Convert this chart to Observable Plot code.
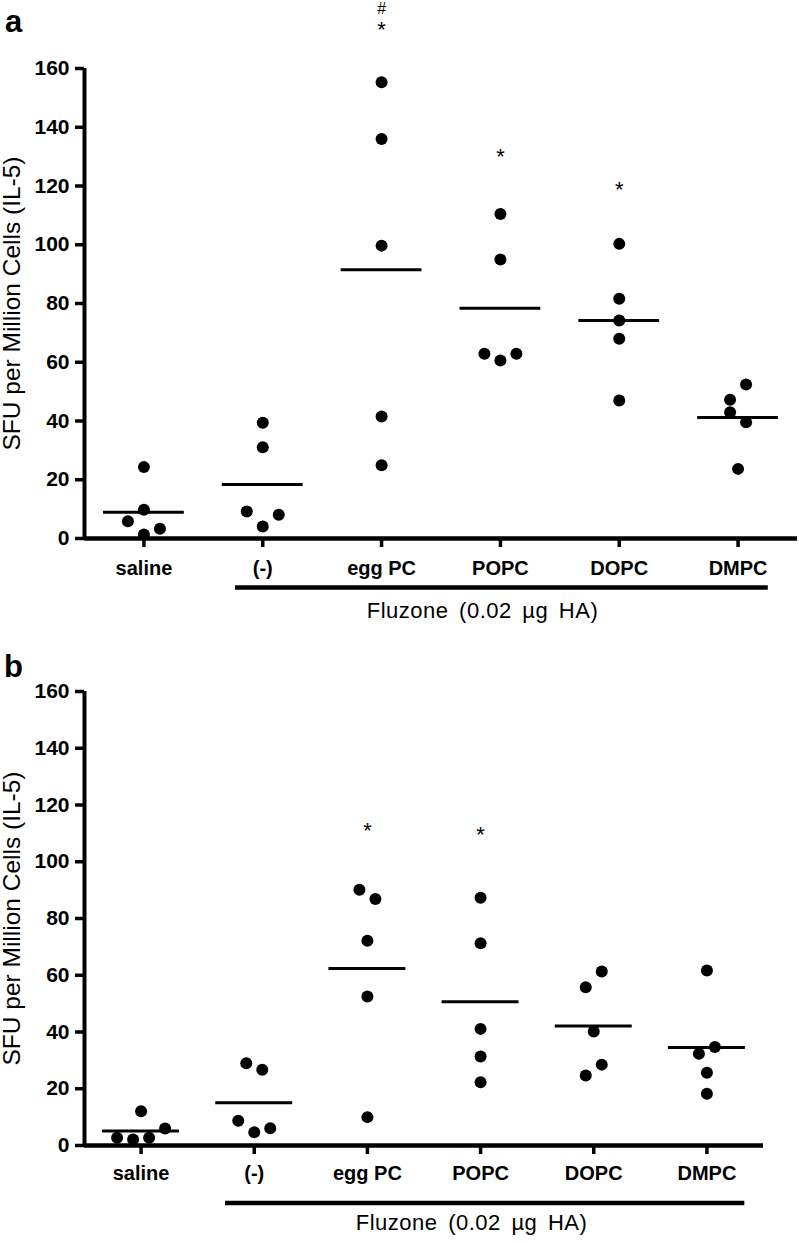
<!DOCTYPE html>
<html><head><meta charset="utf-8">
<script src="https://cdn.jsdelivr.net/npm/d3@7"></script>
<script src="https://cdn.jsdelivr.net/npm/@observablehq/plot@0.6"></script>
<style>
body{margin:0;background:#fff;}
#chart{width:799px;}
#chart svg{display:block;overflow:visible;}
</style></head><body><div id="chart"></div>
<script>
// ---------- data ----------
const categories = ["saline", "(-)", "egg PC", "POPC", "DOPC", "DMPC"];
const yTicks = [0, 20, 40, 60, 80, 100, 120, 140, 160];
const yLabel = "SFU per Million Cells (IL-5)";
const groupLabel = "Fluzone (0.02 µg HA)";

// panel a (values in category order)
const a_saline = [24.3, 9.8, 5.9, 1.4, 3.3];
const a_none   = [39.4, 31.1, 9.2, 4.1, 8.1];
const a_eggPC  = [155.3, 136.0, 99.7, 41.5, 24.9];
const a_POPC   = [110.5, 95.0, 62.9, 60.6, 62.9];
const a_DOPC   = [100.3, 81.6, 74.2, 68.0, 47.0];
const a_DMPC   = [47.2, 52.4, 43.0, 39.6, 23.7];
const a_sigCats   = ["egg PC", "egg PC", "POPC", "DOPC"];
const a_sigValues = [174.1, 180.3, 130.6, 119.6];
const a_sigLabels = ["*", "#", "*", "*"];

// panel b
const b_saline = [12.1, 2.7, 2.1, 2.7, 6.0];
const b_none   = [29.0, 26.7, 8.7, 4.7, 6.1];
const b_eggPC  = [90.1, 86.9, 72.2, 52.5, 10.0];
const b_POPC   = [87.3, 71.3, 41.1, 31.4, 22.3];
const b_DOPC   = [55.8, 61.3, 40.2, 24.7, 28.5];
const b_DMPC   = [61.7, 32.3, 34.7, 25.6, 18.2];
const b_sigCats   = ["egg PC", "POPC"];
const b_sigValues = [111.6, 110.2];
const b_sigLabels = ["*", "*"];

// ---------- helpers ----------
const FONT = "'Liberation Sans', Arial, Helvetica, sans-serif";
const ROW_TOL = 5.8;      // values closer than this share a row (column scatter)
const DOT_SPACING = 16;   // px between side-by-side dots

function rowSlots(values) {
  const order = d3.range(values.length).sort((i, j) => values[i] - values[j]);
  const rows = []; let row = null;
  for (const i of order) {
    if (row && values[i] - values[row[0]] <= ROW_TOL) row.push(i);
    else rows.push(row = [i]);
  }
  const slot = new Array(values.length);
  for (const r of rows) {
    r.sort((i, j) => i - j);
    r.forEach((i, k) => slot[i] = k - (r.length - 1) / 2);
  }
  return slot;
}

function panel(cfg) {
  const {letter, groups, sigCats, sigValues, sigLabels, width, height,
         marginTop, marginBottom, marginRight, marginLeft,
         bracket, bracketDy, labelX, labelDy, tickPad, letterDx, letterDy} = cfg;
  const step = (width - marginLeft - marginRight) / categories.length;
  const points = [];
  const means = [];
  groups.forEach((vals, c) => {
    const slots = rowSlots(vals);
    vals.forEach((v, i) => points.push({x: c + slots[i] * DOT_SPACING / step, y: v}));
    means.push({c, mean: d3.mean(vals)});
  });
  const sig = sigCats.map((cat, i) => ({x: categories.indexOf(cat), y: sigValues[i], label: sigLabels[i]}));
  const svg = Plot.plot({
    width, height, marginLeft, marginRight, marginTop, marginBottom,
    style: {fontFamily: FONT, color: "#000", background: "#fff", overflow: "visible"},
    x: {domain: [-0.5, categories.length - 0.5], axis: null},
    y: {domain: [0, 160], axis: null},
    marks: [
      Plot.axisY({ticks: yTicks, tickSize: 9, tickPadding: 6, strokeWidth: 3.5,
                  fontSize: 21, fontWeight: "bold", label: null, tickFormat: d => d}),
      Plot.axisX({ticks: d3.range(categories.length), tickFormat: i => categories[i],
                  tickSize: 9, tickPadding: tickPad, strokeWidth: 3.5,
                  fontSize: 20, fontWeight: "bold", label: null}),
      Plot.ruleX([-0.5], {strokeWidth: 4}),
      Plot.ruleY([0], {strokeWidth: 4.5}),
      Plot.ruleY(means, {x1: d => d.c - 0.34, x2: d => d.c + 0.34, y: "mean", strokeWidth: 3}),
      Plot.dot(points, {x: "x", y: "y", r: 6, fill: "#000", stroke: null}),
      Plot.text(sig.filter(d => d.label === "*"), {x: "x", y: "y", text: "label", fontSize: 22, dy: 2.5}),
      Plot.text(sig.filter(d => d.label === "#"), {x: "x", y: "y", text: "label", fontSize: 16}),
      Plot.ruleY([0], {x1: bracket[0], x2: bracket[1], dy: bracketDy, strokeWidth: 4.5}),
      Plot.text([groupLabel], {x: () => labelX, frameAnchor: "bottom", textAnchor: "middle",
                               lineAnchor: "middle", dy: labelDy, fontSize: 22}),
      Plot.text([yLabel], {frameAnchor: "left", textAnchor: "middle", lineAnchor: "middle",
                           dx: 12 - marginLeft, rotate: -90, fontSize: 24.5}),
      Plot.text([letter], {frameAnchor: "top-left", textAnchor: "middle", lineAnchor: "middle",
                           dx: letterDx, dy: letterDy, fontSize: 31, fontWeight: "bold"})
    ]
  });
  // the reference spaces the group label a little wider
  d3.select(svg).selectAll("text").filter(function() { return this.textContent === groupLabel; })
    .style("word-spacing", "4px").style("letter-spacing", "0.5px");
  return svg;
}

const chart = document.getElementById("chart");
chart.append(panel({
  letter: "a",
  groups: [a_saline, a_none, a_eggPC, a_POPC, a_DOPC, a_DMPC],
  sigCats: a_sigCats, sigValues: a_sigValues, sigLabels: a_sigLabels,
  width: 799, height: 625, marginTop: 68, marginBottom: 87, marginLeft: 84, marginRight: 2,
  bracket: [0.771, 5.254], bracketDy: 49, labelX: 2.849, labelDy: 72, tickPad: 13,
  letterDx: -71, letterDy: -46.6
}));
chart.append(panel({
  letter: "b",
  groups: [b_saline, b_none, b_eggPC, b_POPC, b_DOPC, b_DMPC],
  sigCats: b_sigCats, sigValues: b_sigValues, sigLabels: b_sigLabels,
  width: 799, height: 618, marginTop: 66, marginBottom: 98, marginLeft: 84, marginRight: 36,
  bracket: [0.746, 5.335], bracketDy: 57.5, labelX: 2.92, labelDy: 77.5, tickPad: 11,
  letterDx: -71, letterDy: -24.5
}));
</script></body></html>
